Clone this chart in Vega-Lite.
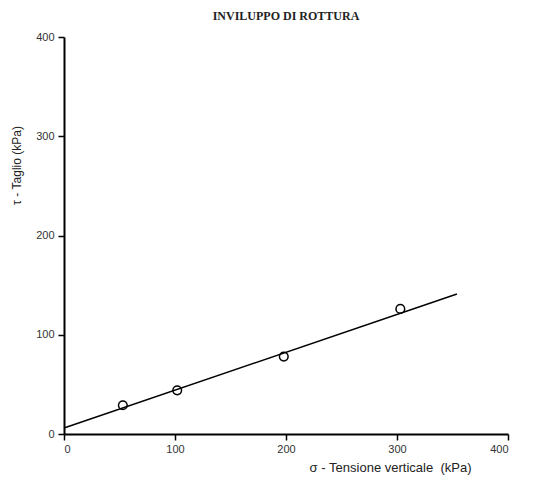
{
  "$schema": "https://vega.github.io/schema/vega-lite/v6.json",
  "width": 444,
  "height": 397,
  "autosize": "none",
  "padding": {"left": 64, "top": 37, "right": 35, "bottom": 47},
  "background": "white",
  "title": {"text": "INVILUPPO DI ROTTURA", "font": "Liberation Serif", "fontSize": 12, "fontWeight": "bold", "color": "#222", "offset": 8},
  "config": {"view": {"stroke": null}},
  "datasets": {
    "pts": [
      {"sigma": 53, "tau": 29},
      {"sigma": 102, "tau": 44},
      {"sigma": 198, "tau": 78},
      {"sigma": 303, "tau": 126}
    ],
    "fit": [
      {"sigma": 0, "tau": 6},
      {"sigma": 354, "tau": 141}
    ]
  },
  "layer": [
    {
      "data": {"name": "fit"},
      "mark": {"type": "line", "color": "black", "strokeWidth": 1.5},
      "encoding": {
        "x": {"field": "sigma", "type": "quantitative"},
        "y": {"field": "tau", "type": "quantitative"}
      }
    },
    {
      "data": {"name": "pts"},
      "mark": {"type": "point", "shape": "circle", "filled": false, "color": "black", "strokeWidth": 1.5, "size": 75, "opacity": 1},
      "encoding": {
        "x": {"field": "sigma", "type": "quantitative"},
        "y": {"field": "tau", "type": "quantitative"}
      }
    }
  ],
  "encoding": {
    "x": {
      "field": "sigma", "type": "quantitative",
      "scale": {"domain": [0, 400], "nice": false},
      "axis": {
        "values": [0, 100, 200, 300, 400], "grid": false,
        "domainColor": "black", "domainWidth": 2, "tickColor": "black", "tickWidth": 1.5, "tickSize": 6,
        "labelFont": "Liberation Sans", "labelFontSize": 11, "labelColor": "#333", "labelPadding": 3,
        "title": "σ - Tensione verticale\u00a0\u00a0(kPa)", "titleFont": "Liberation Sans", "titleFontSize": 13, "titleFontWeight": "normal", "titleColor": "#222",
        "titleX": 326, "titleY": 37, "titleAlign": "center", "titleBaseline": "alphabetic"
      }
    },
    "y": {
      "field": "tau", "type": "quantitative",
      "scale": {"domain": [0, 400], "nice": false},
      "axis": {
        "values": [0, 100, 200, 300, 400], "grid": false,
        "domainColor": "black", "domainWidth": 2, "tickColor": "black", "tickWidth": 1.5, "tickSize": 6,
        "labelFont": "Liberation Sans", "labelFontSize": 11, "labelColor": "#333", "labelPadding": 4,
        "title": "τ - Taglio (kPa)", "titleFont": "Liberation Sans", "titleFontSize": 12, "titleFontWeight": "normal", "titleColor": "#222",
        "titleX": -44, "titleY": 128, "titleAngle": 270, "titleAlign": "center", "titleBaseline": "alphabetic"
      }
    }
  }
}
